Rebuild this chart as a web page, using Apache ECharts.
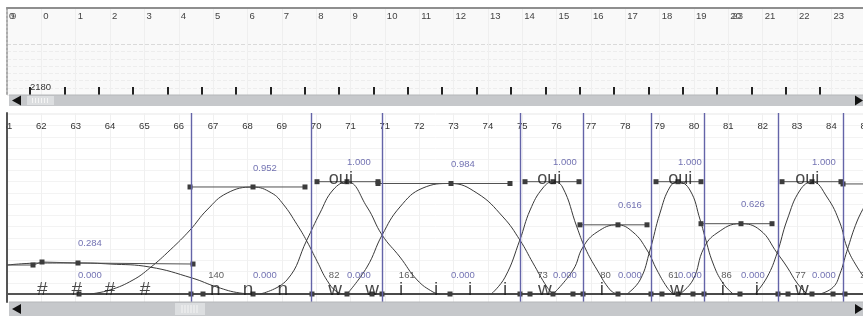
<!DOCTYPE html>
<html>
<head>
<meta charset="utf-8">
<script src="https://cdn.jsdelivr.net/npm/echarts@6/dist/echarts.min.js"></script>
<style>
html, body { margin: 0; padding: 0; background: #fff; }
#chart { width: 863px; height: 319px; }
</style>
</head>
<body>
<div id="chart"></div>
<script>
// column labels (one per column)
var topLabels = ['0', '0', '1', '2', '3', '4', '5', '6', '7', '8', '9', '10', '11', '12', '13',
	'14', '15', '16', '17', '18', '19', '20', '21', '22', '23']
var topOverlay = {0: '9', 21: '23'}
var tickLabel = '2180'
var bottomLabels = ['61', '62', '63', '64', '65', '66', '67', '68', '69', '70', '71', '71', '72',
	'73', '74', '75', '76', '77', '78', '79', '80', '81', '82', '83', '84', '85']

// segments: boundaries (column units), durations, peaks
var segNames = ['n', 'w', 'i', 'w', 'i', 'w', 'i', 'w', 'i']
var segStarts = [5.357, 8.870, 10.908, 14.934, 16.769, 18.748, 20.291, 22.445, 24.337]
var segDurations = ['140', '82', '161', '73', '80', '61', '86', '77', '2']
var peakPos = [2.067, 7.162, 9.898, 12.926, 15.895, 17.787, 19.534, 21.368, 23.435]
var peakValues = [0.284, 0.952, 1.000, 0.984, 1.000, 0.616, 1.000, 0.626, 1.000]
var wordText = 'oui'

// phone labels along the bottom
var phoneX = [1.03, 2.03, 3.0, 4.02, 6.06, 7.02, 8.03, 9.55, 10.63, 11.47, 12.49, 13.48, 14.5,
	15.66, 17.32, 19.5, 20.84, 21.83, 23.14]
var phoneText = ['#', '#', '#', '#', 'n', 'n', 'n', 'w', 'w', 'i', 'i', 'i', 'i',
	'w', 'i', 'w', 'i', 'i', 'w']

// weight curves, points
var curveHash = [[0, 0.258], [1.02, 0.276], [2.07, 0.276], [3.0, 0.267], [4.16, 0.24],
	[5.39, 0.142], [6.11, 0.062], [6.78, 0.009], [7.22, 0]]
var curveN = [[2.42, 0], [3.0, 0.036], [3.67, 0.125], [4.16, 0.232], [4.75, 0.392], [5.33, 0.57],
	[5.82, 0.748], [6.41, 0.899], [7.16, 0.952], [7.7, 0.9], [8.04, 0.8], [8.44, 0.62], [8.73, 0.47],
	[9.03, 0.29], [9.32, 0.12], [9.6, 0.02], [9.85, 0]]
var curveW1 = [[7.37, 0], [8.15, 0.125], [8.73, 0.481], [9.11, 0.721], [9.49, 0.926], [9.9, 1.0],
	[10.48, 0.775], [10.92, 0.525], [11.44, 0.329], [11.94, 0.125], [12.4, 0.018], [12.61, 0]]
var curveI1 = [[9.9, 0], [10.48, 0.24], [10.92, 0.525], [11.44, 0.775], [12.11, 0.944],
	[12.9, 0.984], [13.68, 0.899], [14.44, 0.686], [14.93, 0.481], [15.31, 0.277], [15.72, 0.062], [15.9, 0]]
var curveW2 = [[14.1, 0], [14.5, 0.15], [14.93, 0.481], [15.23, 0.748], [15.6, 0.944], [15.9, 1.0],
	[16.17, 0.953], [16.59, 0.597], [16.83, 0.41], [17.18, 0.214], [17.56, 0.036], [17.76, 0]]
var curveI2 = [[15.9, 0], [16.48, 0.214], [16.77, 0.419], [17.18, 0.552], [17.76, 0.616],
	[18.22, 0.552], [18.63, 0.392], [18.92, 0.214], [19.21, 0.062], [19.39, 0]]
var curveW3 = [[18.05, 0], [18.43, 0.125], [18.72, 0.392], [19.01, 0.721], [19.3, 0.953], [19.53, 1.0],
	[19.88, 0.926], [20.18, 0.659], [20.32, 0.508], [20.55, 0.276], [20.84, 0.098], [21.14, 0]]
var curveI3 = [[19.59, 0], [19.97, 0.125], [20.29, 0.41], [20.67, 0.543], [21.34, 0.626],
	[21.92, 0.57], [22.42, 0.365], [22.71, 0.24], [23.0, 0.098], [23.29, 0]]
var curveW4 = [[21.78, 0], [22.13, 0.151], [22.42, 0.365], [22.71, 0.659], [23.09, 0.926], [23.44, 1.0],
	[23.87, 0.864], [24.25, 0.632], [24.45, 0.419], [24.75, 0.24], [25.12, 0.08]]
var curveI4 = [[23.67, 0], [24.05, 0.06], [24.25, 0.18], [24.45, 0.38], [24.75, 0.65], [25.0, 0.8]]

// target lines with their square handles
var targetLines = [
	[[0, 0.258], [0.757, 0.258], [1.019, 0.285], [2.067, 0.276], [5.415, 0.267]],
	[[5.328, 0.953], [7.162, 0.953], [8.675, 0.953]],
	[[9.025, 1.0], [9.898, 1.0], [10.801, 1.0]],
	[[10.801, 0.984], [12.926, 0.984], [14.643, 0.984]],
	[[15.08, 1.0], [15.895, 1.0], [16.652, 1.0]],
	[[16.681, 0.616], [17.787, 0.616], [18.632, 0.616]],
	[[18.894, 1.0], [19.534, 1.0], [20.204, 1.0]],
	[[20.204, 0.626], [21.368, 0.626], [22.271, 0.626]],
	[[22.562, 1.0], [23.435, 1.0], [24.279, 1.0]],
	[[24.338, 0.98], [25.3, 0.98]]
]
var baseSquares = [2.096, 5.357, 5.706, 7.162, 8.879, 9.898, 10.626, 10.917, 12.897, 14.934,
	15.226, 15.895, 16.477, 16.769, 17.787, 18.748, 19.068, 19.534, 19.971, 20.291, 21.339,
	22.445, 22.737, 23.435, 24.047, 24.396, 25.3]

var FONT = 'Liberation Sans, Arial, sans-serif'
var U = 34.35            // px per column
var BASE = 294, Y_PX = 112.3

function idx (v) { return Math.round(v) === v ? v : -1 }

function scrollbar (y, h, tx, tw) {
	var m = y + h / 2
	var els = [
		{type: 'rect', shape: {x: 9, y: y, width: 854, height: h}, style: {fill: '#c6c8cb'}},
		{type: 'line', shape: {x1: 9, y1: y, x2: 863, y2: y}, style: {stroke: '#b4b6b9', lineWidth: 1}},
		{type: 'rect', shape: {x: tx, y: y + 1, width: tw, height: h - 2}, style: {fill: '#dcdee0'}},
		{type: 'polygon', shape: {points: [[12, m], [21, m - 5], [21, m + 5]]}, style: {fill: '#111'}},
		{type: 'polygon', shape: {points: [[863, m], [855, m - 5], [855, m + 5]]}, style: {fill: '#111'}}
	]
	for (var i = 0; i < 6; i++) {
		var gx = tx + tw / 2 - 8 + i * 3
		els.push({type: 'line', shape: {x1: gx, y1: y + 3, x2: gx, y2: y + h - 3}, style: {stroke: '#f4f4f4', lineWidth: 1}})
	}
	return els
}

var series = []
var curves = [curveHash, curveN, curveW1, curveI1, curveW2, curveI2, curveW3, curveI3, curveW4, curveI4]
curves.forEach(function (pts) {
	series.push({
		type: 'line', xAxisIndex: 3, yAxisIndex: 2, data: pts, smooth: 0.45,
		symbol: 'none', lineStyle: {color: '#3a3a3a', width: 1}, z: 3, silent: true
	})
})
targetLines.forEach(function (pts) {
	series.push({
		type: 'line', xAxisIndex: 3, yAxisIndex: 2, data: pts, symbol: 'rect',
		symbolSize: function (v) { return (v[0] <= 0 || v[0] > 25) ? 0 : 5 },
		itemStyle: {color: '#3c3c3c'}, lineStyle: {color: '#505050', width: 1}, z: 4, silent: true
	})
})
series.push({
	type: 'line', xAxisIndex: 3, yAxisIndex: 2,
	data: baseSquares.map(function (x) { return [x, 0] }),
	symbol: 'rect', symbolSize: function (v) { return v[0] > 25 ? 0 : 5 },
	itemStyle: {color: '#3c3c3c'}, lineStyle: {color: '#404040', width: 1}, z: 4, silent: true
})
// segment boundaries
series.push({
	type: 'line', xAxisIndex: 3, yAxisIndex: 2, data: [], silent: true, z: 2,
	itemStyle: {color: '#6464a8'},
	markLine: {
		symbol: 'none', silent: true, label: {show: false}, animation: false,
		lineStyle: {color: '#6464a8', width: 1.4, type: 'solid', opacity: 1},
		emphasis: {disabled: true},
		data: segStarts.map(function (x) { return {xAxis: x} })
	}
})

function labelSeries (data, label) {
	return {
		type: 'scatter', xAxisIndex: 3, yAxisIndex: 2, data: data, symbolSize: 0, silent: true, z: 6,
		label: Object.assign({show: true, fontFamily: FONT, formatter: function (p) { return p.value[2] }}, label)
	}
}
var blue = {position: 'top', distance: 14, align: 'left', color: '#4f4f9f', fontSize: 9.5}
series.push(labelSeries(peakPos.map(function (x, i) { return [x, peakValues[i], peakValues[i].toFixed(3)] }), blue))
series.push(labelSeries(peakPos.map(function (x) { return [x, 0, (0).toFixed(3)] }), blue))
series.push(labelSeries(segStarts.map(function (x, i) { return [x + 0.5, 0, segDurations[i]] }),
	{position: 'top', distance: 14, align: 'left', color: '#333', fontSize: 9.5}))
series.push(labelSeries(segStarts.filter(function (x, i) { return segNames[i] === 'w' })
	.map(function (x) { return [x + 0.5, 1, wordText] }),
	{position: 'top', distance: -6, align: 'left', color: '#1a1a1a', fontSize: 18}))
series.push(labelSeries(phoneX.map(function (x, i) { return [x, 0, phoneText[i]] }),
	{position: 'top', distance: -5, color: '#1a1a1a', fontSize: 19}))

var option = {
	animation: false,
	backgroundColor: '#fff',
	grid: [
		{left: 7, top: 8, width: 25 * U, height: 87, show: true, backgroundColor: '#f9f9f9', borderWidth: 0,
			outerBoundsMode: 'none', containLabel: false},
		{left: 30, top: 8, width: 23 * U, height: 87, outerBoundsMode: 'none', containLabel: false},
		{left: 7, top: 113, width: 25 * U, height: 189, outerBoundsMode: 'none', containLabel: false}
	],
	xAxis: [
		{
			gridIndex: 0, type: 'value', min: 0, max: 25, interval: 1, position: 'top',
			axisLine: {lineStyle: {color: '#8e8e8e', width: 2}}, axisTick: {show: false},
			axisLabel: {inside: true, margin: 3, align: 'left', padding: [0, 0, 0, 2], color: '#444', fontSize: 9.5, fontFamily: FONT,
				formatter: function (v) { return topLabels[idx(v)] || '' }},
			splitLine: {show: true, lineStyle: {color: '#efefef'}}
		},
		{
			gridIndex: 0, type: 'value', min: 0, max: 25, interval: 1, position: 'top',
			axisLine: {show: false}, axisTick: {show: false}, splitLine: {show: false},
			axisLabel: {inside: true, margin: 3, align: 'left', padding: [0, 0, 0, 4], color: '#555', fontSize: 9.5, fontFamily: FONT,
				formatter: function (v) { return topOverlay[idx(v)] || '' }}
		},
		{
			gridIndex: 1, type: 'value', min: 0, max: 23, interval: 1, position: 'bottom',
			axisLine: {show: false}, splitLine: {show: false},
			axisTick: {show: true, inside: true, length: 8, lineStyle: {color: '#222', width: 2}},
			axisLabel: {inside: true, margin: 3, align: 'left', color: '#333', fontSize: 9.5, fontFamily: FONT,
				formatter: function (v) { return v === 0 ? tickLabel : '' }}
		},
		{
			gridIndex: 2, type: 'value', min: 0, max: 25, interval: 1, position: 'top',
			axisLine: {lineStyle: {color: '#555', width: 2}}, axisTick: {show: false},
			axisLabel: {inside: true, margin: 8, color: '#333', fontSize: 9.5, fontFamily: FONT,
				formatter: function (v) { return bottomLabels[idx(v)] || '' }},
			splitLine: {show: true, lineStyle: {color: '#f0f0f0'}}
		}
	],
	yAxis: [
		{
			gridIndex: 0, type: 'value', min: 0, max: 84, interval: 7, inverse: true,
			axisLine: {show: true, lineStyle: {color: '#aaa', width: 2, type: 'dotted'}},
			axisTick: {show: false}, axisLabel: {show: false},
			splitLine: {show: true, lineStyle: {type: 'dashed',
				color: ['#f9f9f9', '#f9f9f9', '#f9f9f9', '#f9f9f9', '#f9f9f9', '#dadada', '#ededed',
					'#ededed', '#ededed', '#ededed', '#ededed', '#ededed', '#ededed']}}
		},
		{gridIndex: 1, type: 'value', min: 0, max: 1, show: false},
		{
			gridIndex: 2, type: 'value', min: -(302 - BASE) / Y_PX, max: (BASE - 113) / Y_PX, splitNumber: 12,
			axisLine: {show: true, lineStyle: {color: '#555', width: 2}},
			axisTick: {show: false}, axisLabel: {show: false},
			splitLine: {show: true, lineStyle: {color: '#f3f3f3'}}
		}
	],
	series: series,
	graphic: [].concat(
		[{type: 'rect', shape: {x: 0, y: 112, width: 6, height: 191}, style: {fill: '#fff'}}],
		scrollbar(95, 11, 27, 27),
		scrollbar(302, 14, 175, 30)
	).map(function (e) { e.z = 100; e.silent = true; return e })
}

var chart = echarts.init(document.getElementById('chart'))
chart.setOption(option)
</script>
</body>
</html>
